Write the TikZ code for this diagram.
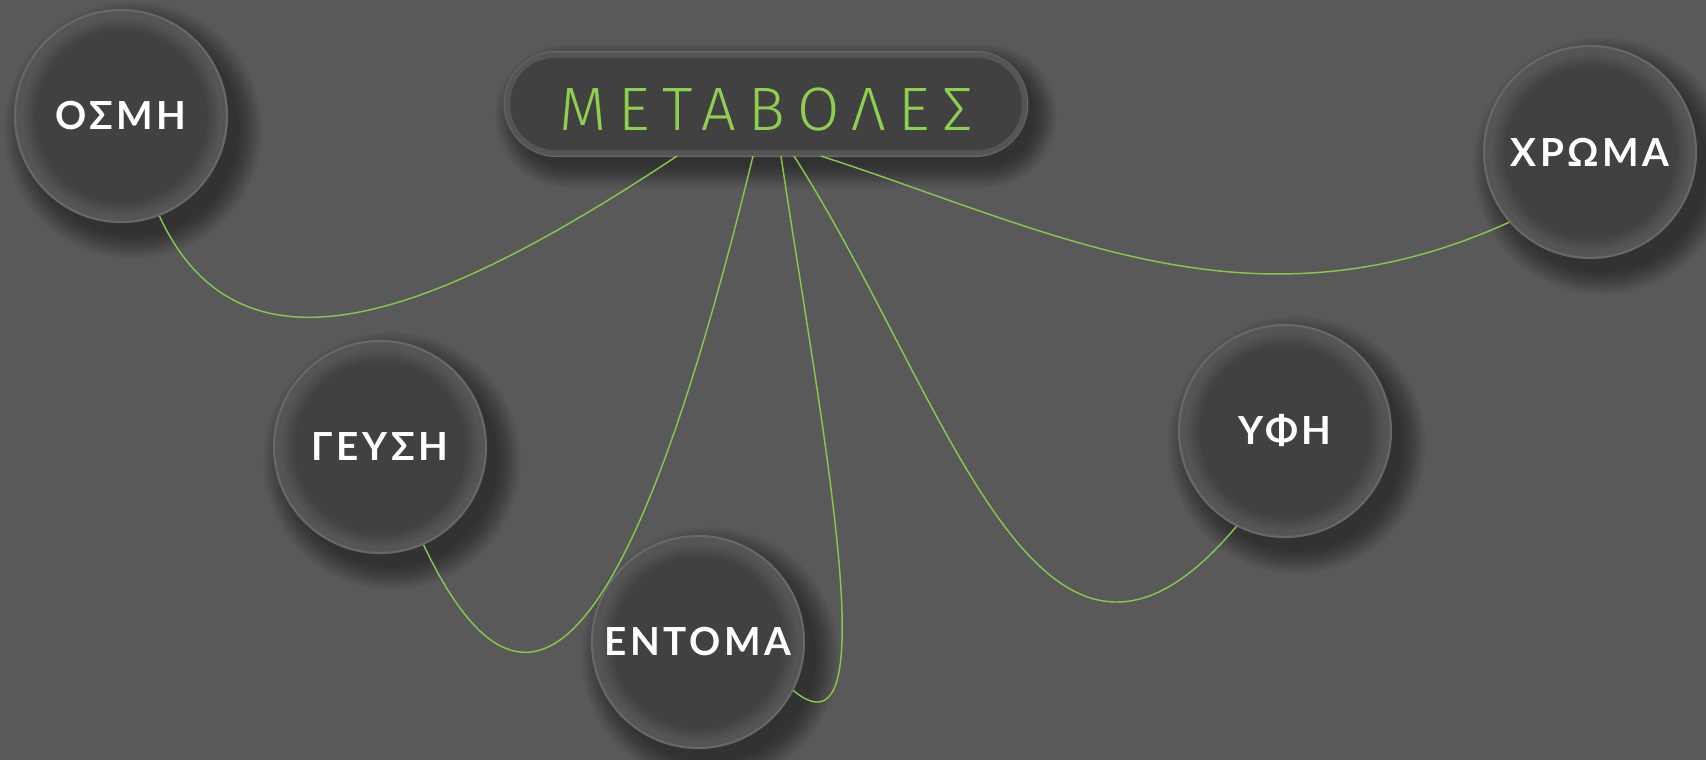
\documentclass[tikz,border=0pt]{standalone}
\usepackage{fontspec}
\usetikzlibrary{calc}
\setmainfont{Lato}
\newfontfamily\labelfont{Lato}[LetterSpace=9]
\newfontfamily\titlefont{Fira Sans Light}[LetterSpace=20]
\definecolor{bgc}{HTML}{595959}
\definecolor{discc}{HTML}{414141}
\definecolor{rimc}{HTML}{686868}
\definecolor{bandc}{HTML}{555555}
\definecolor{linec}{HTML}{84C84A}
\definecolor{titlec}{HTML}{8DCF4F}
\pgfdeclareradialshading{bubbleshade}{\pgfpoint{0bp}{0bp}}{%
  color(0bp)=(discc); color(20bp)=(discc); color(23.5bp)=(bandc); color(25bp)=(bandc); color(50bp)=(bandc)}
\tikzset{
  bubble/.style={circle, shade, shading=bubbleshade, draw=rimc, line width=1.6pt, inner sep=0pt,
    minimum size=159pt, text=white, font=\labelfont\bfseries\fontsize{29}{30}\selectfont},
  pillbox/.style={rectangle, rounded corners=39pt, fill=discc, draw=rimc, line width=1.6pt,
    minimum width=392pt, minimum height=78pt, inner sep=0pt, text=titlec,
    font=\titlefont\fontsize{46}{48}\selectfont},
  pillglow/.style={draw=bandc, line width=4pt, rounded corners=36pt},
  link/.style={draw=linec, line width=1.1pt},
  shadowring/.style={fill=black, opacity=0.032},
}
\newcommand\softshadow[3]{%
  \foreach \k in {0,...,14}{\fill[shadowring] (#1+12,#2+14) circle[radius={#3+22-1.7*\k}];}%
}
\begin{document}
\begin{tikzpicture}[x=0.75pt,y=-0.75pt]
\useasboundingbox (0,0) rectangle (1706,760);
\fill[bgc] (0,0) rectangle (1706,760);
% shadows
\softshadow{121}{116}{107}
\softshadow{1590}{152}{107}
\softshadow{380}{447}{107}
\softshadow{1285}{431}{107}
\softshadow{698}{642}{107}
\foreach \k in {0,...,14}{\fill[shadowring, rounded corners={39pt+15pt-1.2pt*\k}]
  (505+10-20+1.6*\k,52+12-20+1.6*\k) rectangle (1027+10+20-1.6*\k,156+12+20-1.6*\k);}
% nodes
\node[pillbox] (title) at (766,104) {\smash{\raisebox{-19.5pt}{ΜΕΤΑΒΟΛΕΣ}}};
\draw[pillglow] ($(title.south west)+(4,-4)$) rectangle ($(title.north east)+(-4,4)$);
\node[bubble] (osmi) at (121,116) {ΟΣΜΗ};
\node[bubble] (chroma) at (1590,152) {ΧΡΩΜΑ};
\node[bubble] (geusi) at (380,447) {ΓΕΥΣΗ};
\node[bubble] (yfi) at (1285,431) {ΥΦΗ};
\node[bubble] (entoma) at (698,642) {ΕΝΤΟΜΑ};
% connectors
\draw[link] ($(title.south)+(-89,-1)$) .. controls (430,320) and (240,390) .. (osmi.-69);
\draw[link] ($(title.south)+(-13,-1)$) .. controls (640,620) and (535,780) .. (geusi.-66);
\draw[link] ($(title.south)+(15,-1)$) .. controls (820,420) and (890,770) .. (entoma.-27);
\draw[link] ($(title.south)+(28,-1)$) .. controls (950,400) and (1040,760) .. (yfi.-117);
\draw[link] ($(title.south)+(55,-1)$) .. controls (1050,230) and (1250,340) .. (chroma.-139);
\end{tikzpicture}
\end{document}
